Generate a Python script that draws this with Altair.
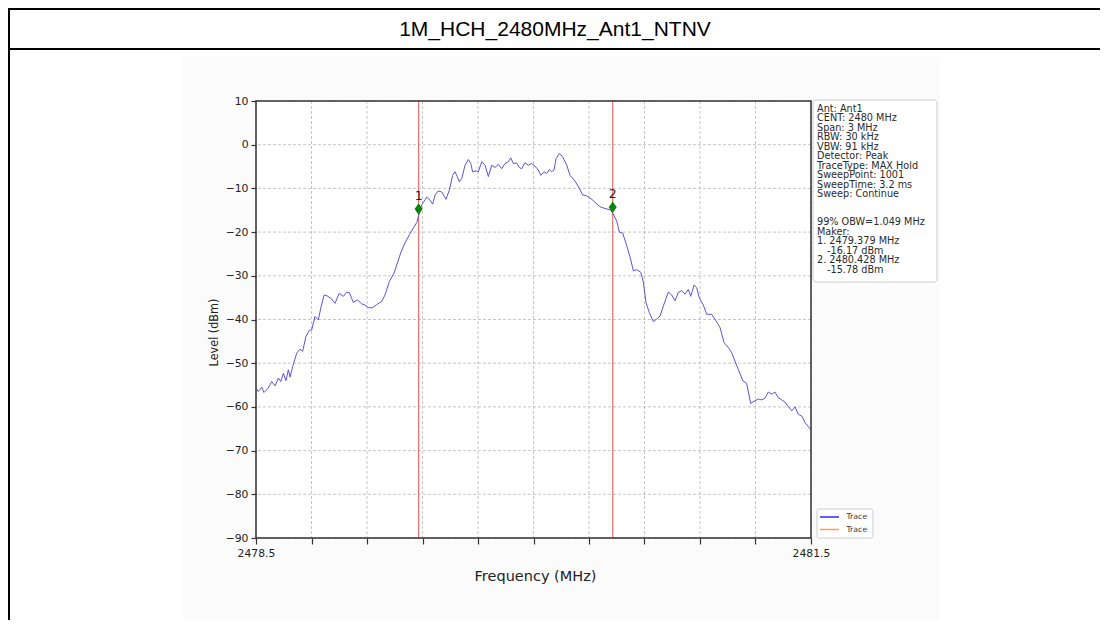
import altair as alt
import pandas as pd

title_text = "1M_HCH_2480MHz_Ant1_NTNV"

freq_mhz = [
    2478.500, 2478.512, 2478.531, 2478.543, 2478.566, 2478.585, 2478.603, 2478.621,
    2478.634, 2478.648, 2478.662, 2478.675, 2478.684, 2478.698, 2478.720, 2478.738,
    2478.752, 2478.770, 2478.788, 2478.801, 2478.819, 2478.837, 2478.850, 2478.868,
    2478.885, 2478.909, 2478.927, 2478.950, 2478.972, 2478.990, 2479.004, 2479.026,
    2479.048, 2479.071, 2479.089, 2479.107, 2479.131, 2479.152, 2479.179, 2479.197,
    2479.221, 2479.246, 2479.261, 2479.282, 2479.305, 2479.329, 2479.350, 2479.369,
    2479.379, 2479.396, 2479.414, 2479.423, 2479.441, 2479.455, 2479.468, 2479.485,
    2479.504, 2479.527, 2479.545, 2479.563, 2479.576, 2479.588, 2479.599, 2479.612,
    2479.630, 2479.648, 2479.661, 2479.671, 2479.689, 2479.702, 2479.720, 2479.738,
    2479.756, 2479.774, 2479.792, 2479.810, 2479.828, 2479.846, 2479.864, 2479.877,
    2479.891, 2479.909, 2479.923, 2479.936, 2479.954, 2479.972, 2479.990, 2480.008,
    2480.026, 2480.039, 2480.057, 2480.071, 2480.085, 2480.098, 2480.111, 2480.122,
    2480.140, 2480.158, 2480.180, 2480.197, 2480.224, 2480.248, 2480.266, 2480.288,
    2480.315, 2480.338, 2480.359, 2480.386, 2480.414, 2480.428, 2480.450, 2480.464,
    2480.482, 2480.504, 2480.525, 2480.540, 2480.558, 2480.580, 2480.594, 2480.608,
    2480.626, 2480.648, 2480.666, 2480.684, 2480.702, 2480.729, 2480.747, 2480.765,
    2480.783, 2480.801, 2480.819, 2480.837, 2480.850, 2480.868, 2480.882, 2480.896,
    2480.918, 2480.936, 2480.963, 2480.986, 2481.008, 2481.030, 2481.053, 2481.071,
    2481.089, 2481.107, 2481.131, 2481.152, 2481.174, 2481.192, 2481.215, 2481.234,
    2481.251, 2481.269, 2481.288, 2481.305, 2481.323, 2481.342, 2481.359, 2481.377,
    2481.396, 2481.414, 2481.431, 2481.450, 2481.468, 2481.485, 2481.500,
]
level_dbm = [
    -55.7, -56.5, -55.5, -56.7, -55.7, -54.2, -55.2, -53.4,
    -54.2, -52.3, -54.0, -51.5, -53.2, -50.8, -47.7, -46.8,
    -47.3, -43.9, -42.5, -42.4, -39.3, -40.1, -37.4, -34.4,
    -34.6, -35.3, -36.3, -34.0, -34.7, -33.8, -33.8, -36.1,
    -35.5, -36.4, -36.7, -37.3, -37.3, -36.6, -35.9, -34.4,
    -31.3, -29.4, -27.5, -24.8, -22.5, -20.6, -19.1, -17.8,
    -16.2, -13.7, -12.6, -12.0, -12.7, -13.6, -11.5, -10.6,
    -10.8, -12.5, -10.4, -7.0, -6.2, -7.3, -8.5, -7.7,
    -4.7, -3.4, -4.3, -6.2, -6.0, -6.2, -3.9, -4.7,
    -7.3, -4.7, -5.2, -4.5, -5.5, -4.3, -3.9, -3.0,
    -4.3, -4.2, -5.2, -5.5, -4.1, -4.7, -4.3, -4.9,
    -5.8, -7.0, -6.2, -6.6, -5.7, -6.2, -5.8, -3.2,
    -2.0, -2.8, -4.7, -7.0, -8.3, -10.0, -11.5, -11.7,
    -12.5, -13.4, -14.2, -14.6, -14.9, -15.6, -17.5, -20.0,
    -20.2, -23.1, -26.2, -28.9, -28.6, -29.2, -31.5, -36.1,
    -38.4, -40.5, -39.9, -39.2, -36.9, -33.7, -34.4, -35.7,
    -33.8, -33.4, -34.2, -33.1, -34.7, -32.1, -32.7, -35.0,
    -36.7, -38.8, -38.8, -40.3, -41.8, -45.3, -46.4, -47.6,
    -49.5, -51.4, -54.0, -54.6, -59.2, -58.7, -58.2, -58.4,
    -58.0, -56.6, -57.1, -56.6, -57.9, -58.4, -58.9, -59.9,
    -60.9, -60.0, -61.7, -62.1, -63.6, -64.5, -65.3,
]

marker_freqs = [2479.379, 2480.428]
marker_levels = [-14.7, -14.3]
marker_labels = ["1", "2"]

x_ticks = [2478.5, 2478.8, 2479.1, 2479.4, 2479.7, 2480.0, 2480.3, 2480.6, 2480.9, 2481.2, 2481.5]
y_ticks = [-90, -80, -70, -60, -50, -40, -30, -20, -10, 0, 10]

# empty strings are blank lines; a leading space means the line is indented
info_lines = [
    "Ant: Ant1", "CENT: 2480 MHz", "Span: 3 MHz", "RBW: 30 kHz", "VBW: 91 kHz",
    "Detector: Peak", "TraceType: MAX Hold", "SweepPoint: 1001", "SweepTime: 3.2 ms",
    "Sweep: Continue", "", "", "99% OBW=1.049 MHz", "Maker:",
    "1. 2479.379 MHz", "  -16.17 dBm", "2. 2480.428 MHz", "  -15.78 dBm",
]

legend_labels = ["Trace", "Trace"]
legend_colors = ["#2b2bff", "#ffa040"]

FONT = "DejaVu Sans"
W, H = 555, 437
xs = alt.Scale(domain=[2478.5, 2481.5], nice=False, zero=False)
ys = alt.Scale(domain=[-90, 10], nice=False, zero=False)
one = pd.DataFrame({"k": [0]})

x_axis = alt.Axis(
    values=x_ticks, format=".1f",
    labelExpr="(datum.value == 2478.5 || datum.value == 2481.5) ? datum.label : ''",
    grid=False, domain=False, tickSize=6, tickColor="#333", tickWidth=1.2,
    labelColor="#222", labelFont=FONT, labelFontSize=10.8, labelPadding=3,
    labelFlush=False, labelOverlap=False, labelBound=False,
    title="Frequency (MHz)", titleFont=FONT, titleFontSize=14.5, titleFontWeight="normal",
    titleColor="#222", titleX=279, titleY=38, titleAlign="center", titleBaseline="middle",
    zindex=1)
y_axis = alt.Axis(
    values=y_ticks, format="d", grid=False, domain=False, tickSize=5, tickColor="#333",
    tickWidth=1.2, labelColor="#222", labelFont=FONT, labelFontSize=10.8, labelPadding=3,
    labelOverlap=False, labelBound=False,
    title="Level (dBm)", titleFont="DejaVu Sans Condensed", titleFontSize=12.5,
    titleFontWeight="normal",
    titleColor="#222", titleX=-43, titleY=231, titleAngle=270, titleAlign="center",
    titleBaseline="middle", zindex=1)


def box(x0, x1, y0, y1, **kw):
    return alt.Chart(one).mark_rect(**kw).encode(
        x=alt.value(x0), x2=alt.value(x1), y=alt.value(y0), y2=alt.value(y1))


def hline(x0, x1, y, **kw):
    return alt.Chart(one).mark_rule(**kw).encode(
        x=alt.value(x0), x2=alt.value(x1), y=alt.value(y))


# figure background and plot area
bg = box(-73, 684, -44, 519, color="#fbfbfb")
plotbg = box(0, W, 0, H, color="white")

# document table frame
top_line = hline(-248, 844, -92, color="black", strokeWidth=2)
row_line = hline(-248, 844, -52, color="black", strokeWidth=2)
left_line = alt.Chart(one).mark_rule(color="black", strokeWidth=2).encode(
    x=alt.value(-247), y=alt.value(-93), y2=alt.value(519))
title = alt.Chart(one).mark_text(
    text=title_text, font="Liberation Sans", fontSize=21, color="black",
    align="center", baseline="middle"
).encode(x=alt.value(299), y=alt.value(-71))

# grid
vgrid = alt.Chart(pd.DataFrame({"f": x_ticks})).mark_rule(
    color="#b8b8b8", strokeWidth=0.8, strokeDash=[3, 2]
).encode(x=alt.X("f:Q", scale=xs, axis=x_axis))
hgrid = alt.Chart(pd.DataFrame({"l": y_ticks})).mark_rule(
    color="#b8b8b8", strokeWidth=0.8, strokeDash=[3, 2]
).encode(y=alt.Y("l:Q", scale=ys, axis=y_axis))

marker_df = pd.DataFrame({"freq": marker_freqs, "level": marker_levels, "label": marker_labels})
redlines = alt.Chart(marker_df).mark_rule(color="#f07070", strokeWidth=1.2).encode(
    x=alt.X("freq:Q", scale=xs, axis=x_axis))

trace_df = pd.DataFrame({"freq": freq_mhz, "level": level_dbm})
trace = alt.Chart(trace_df).mark_line(color="#5e52d9", strokeWidth=1.0).encode(
    x=alt.X("freq:Q", scale=xs, axis=x_axis),
    y=alt.Y("level:Q", scale=ys, axis=y_axis),
)

diamonds = alt.Chart(marker_df).mark_point(
    shape="M0,-1L0.7,0L0,1L-0.7,0Z", filled=True, color="#0b840b", size=130, opacity=1
).encode(x=alt.X("freq:Q", scale=xs, axis=x_axis), y=alt.Y("level:Q", scale=ys, axis=y_axis))
mlabels = alt.Chart(marker_df).mark_text(
    dy=-13, font=FONT, fontSize=12.5, color="#222", baseline="middle"
).encode(x=alt.X("freq:Q", scale=xs, axis=x_axis), y=alt.Y("level:Q", scale=ys, axis=y_axis),
         text="label:N")

frame = box(0, W, 0, H, stroke="#333", strokeWidth=1.5, fillOpacity=0)

# info box
info_box = box(557, 681, -1, 181, fill="white", stroke="#cccccc", strokeWidth=1, cornerRadius=3)
info_layers = []
for i, line in enumerate(info_lines):
    if not line.strip():
        continue
    indent = 10 if line.startswith(" ") else 0
    info_layers.append(alt.Chart(one).mark_text(
        text=line.strip(), align="left", baseline="middle", font=FONT,
        fontSize=9.7, color="#2a2a2a"
    ).encode(x=alt.value(561 + indent), y=alt.value(8 + i * 9.45)))

# legend
leg_box = box(561, 617, 408, 437, fill="white", stroke="#cccccc", strokeWidth=1, cornerRadius=2)
leg_layers = []
for i, (lab, col) in enumerate(zip(legend_labels, legend_colors)):
    yy = 416 + i * 12.5
    leg_layers.append(hline(564, 583, yy, color=col, strokeWidth=1.5))
    leg_layers.append(alt.Chart(one).mark_text(
        text=lab, align="left", baseline="middle", font=FONT, fontSize=7.8, color="#333"
    ).encode(x=alt.value(590.5), y=alt.value(yy)))

chart = alt.layer(
    bg, plotbg, top_line, row_line, left_line, title, vgrid, hgrid, redlines, trace,
    diamonds, mlabels, frame, info_box, *info_layers, leg_box, *leg_layers
).properties(
    width=W, height=H,
    autosize=alt.AutoSizeParams(type="none"),
    padding={"left": 248, "top": 93, "right": 289, "bottom": 82},
).configure_view(strokeWidth=0)

chart.save("out.html", embed_options={"renderer": "svg", "actions": False})
